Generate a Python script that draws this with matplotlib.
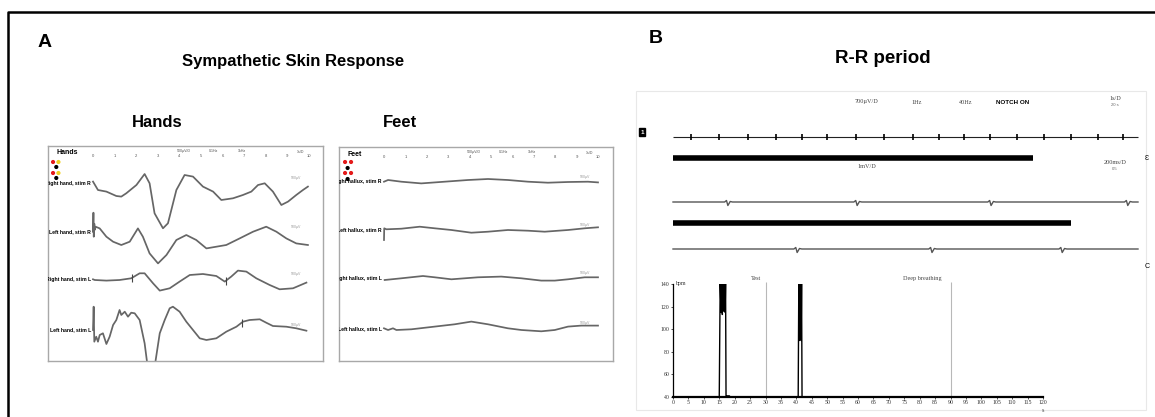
import numpy as np
import matplotlib.pyplot as plt
from matplotlib.lines import Line2D
from matplotlib.patches import Rectangle

plt.rcParams['font.family'] = ['Liberation Sans', 'DejaVu Sans']

W, H = 1155, 417


def fx(px):
    return px / W


def fy(py):
    return 1 - py / H


# ---- Panel A data: sympathetic skin response traces (s, deflection) ----
hand_labels = ["Right hand, stim R", "Left hand, stim R",
               "Right hand, stim L", "Left hand, stim L"]
hand_t = [
    [0.0, 0.23, 0.62, 1.08, 1.31, 1.54, 2.01, 2.39, 2.62, 2.85, 3.24, 3.47, 3.86,
     4.24, 4.63, 5.09, 5.56, 5.94, 6.48, 6.94, 7.33, 7.64, 7.95, 8.33, 8.72, 9.03,
     9.41, 9.72, 9.95],
    [0.0, 0.02, 0.035, 0.06, 0.09, 0.12, 0.31, 0.62, 0.93, 1.31, 1.70, 2.08, 2.31,
     2.62, 3.01, 3.40, 3.86, 4.32, 4.78, 5.25, 5.71, 6.17, 6.79, 7.41, 8.02, 8.49,
     8.95, 9.41, 9.95],
    [0.0, 0.08, 0.62, 1.23, 1.77, 2.16, 2.39, 2.78, 3.09, 3.55, 4.01, 4.48, 5.09,
     5.71, 6.10, 6.40, 6.71, 7.10, 7.56, 8.18, 8.64, 9.26, 9.88],
    [0.0, 0.03, 0.06, 0.15, 0.23, 0.31, 0.46, 0.62, 0.77, 0.93, 1.08, 1.23, 1.31,
     1.47, 1.62, 1.77, 1.93, 2.16, 2.39, 2.50, 2.62, 2.78, 2.89, 3.09, 3.32, 3.55,
     3.70, 4.01, 4.32, 4.63, 4.94, 5.25, 5.71, 6.17, 6.64, 6.94, 7.25, 7.72, 8.02,
     8.33, 8.95, 9.41, 9.88],
]
hand_v = [
    [1.7, -6.7, -8.3, -12.7, -13.3, -10, -1.7, 9.3, 0, -30, -45, -40, -6.7,
     8.3, 6.7, -3.3, -8.3, -16.7, -15, -11.7, -8.3, -1.7, 0, -8.3, -21.7, -18.3,
     -11.7, -6.7, -3.3],
    [0, 19, -5, 8, 2, 5, 3.3, -5, -10, -13.3, -10, 3.3, -5,
     -21.7, -31.7, -23.3, -8.3, -3.3, -8.3, -16.7, -15, -13.3, -6.7, 0, 5, 0,
     -6.7, -11.7, -13.3],
    [0, -0.7, -1.3, -0.7, 1, 6, 6, -4, -11.3, -9, -2.3, 4.3, 5.3,
     3.3, -2.3, 2.7, 8.7, 7.7, 1, -5.7, -10, -9, -3.3],
    [0, 23.3, -11.7, -6.7, -11.7, -5, -3.3, -14, -6.7, 5, 10, 20, 15,
     18.3, 13.3, 17.3, 16.7, 10, -13.3, -31.7, -60, -60, -31.7, -3.3, 10, 21.7,
     23.3, 18.3, 8.3, 0, -8.3, -10, -8.3, -1.7, 3.3, 8.3, 10, 10.7, 7.3,
     4, 3.3, 1.7, -0.7],
]
hand_cursor_trace = [2, 2, 3]
hand_cursor_t = [1.8, 6.14, 6.88]

foot_labels = ["Right hallux, stim R", "Left hallux, stim R",
               "Right hallux, stim L", "Left hallux, stim L"]
foot_t = [
    [0.0, 0.19, 0.81, 1.74, 2.83, 3.93, 4.86, 5.79, 6.73, 7.66, 8.60, 9.53, 10.0],
    [0.0, 0.01, 0.11, 0.81, 1.67, 2.37, 3.15, 4.08, 4.86, 5.79, 6.73, 7.51, 8.60,
     9.38, 10.0],
    [0.03, 0.81, 1.82, 2.37, 3.15, 4.39, 5.48, 6.42, 7.35, 7.98, 8.60, 9.38, 10.0],
    [0.0, 0.19, 0.42, 0.58, 1.28, 2.37, 3.30, 4.08, 4.86, 5.79, 6.42, 7.35, 7.98,
     8.60, 9.22, 10.0],
]
foot_v = [
    [0, 1.7, 0, -1.7, 0, 1.7, 2.7, 1.7, 0, -1, -0.3, 0, -0.7],
    [-10, 1.7, 0.7, 1.3, 3.3, 1.7, 0, -2.7, -1.7, 0, -0.7, -1.7, 0, 1.7, 2.7],
    [-1.7, 0, 2.3, 1, -1, 1, 1.7, 0, -2.3, -2.3, -1, 1, 1],
    [0, -1.7, 0, -1.7, -1, 1.7, 4, 6.7, 4, 0, -1.7, -3, -1.7, 1.7, 2.7, 2.7],
]
sweep_ticks = list(range(0, 11))

# ---- Panel B data: R-R recording ----
beats_top = [0.39, 0.99, 1.61, 2.22, 2.77, 3.31, 3.94, 4.54, 5.16, 5.72, 6.26,
             6.82, 7.40, 7.98, 8.56, 9.14, 9.68]
beats_mid = [1.18, 3.96, 6.84, 9.78]
beats_low = [2.67, 5.57, 8.37]
bar_ends = [7.74, 8.56]

hr_t = [0, 15.0, 15.3, 15.6, 15.8, 16.0, 16.15, 16.3, 16.45, 16.6, 16.75, 16.9,
        17.05, 17.2, 17.5, 18.3, 18.5, 40.6, 40.8, 40.95, 41.1, 41.25, 41.4,
        41.55, 41.7, 41.85, 120]
hr_bpm = [40, 40, 140, 115, 140, 113, 140, 116, 140, 118, 140, 115, 140, 40, 41,
          41, 40, 40, 140, 90, 140, 92, 140, 90, 140, 40, 40]
phase_marks = [30, 90]
phase_names = ["Test", "Deep breathing"]
phase_label_x = [27, 81]

fig = plt.figure(figsize=(W / 100, H / 100), dpi=100)

# outer frame
fig.add_artist(Line2D([fx(8), fx(8), fx(1155)], [fy(417), fy(12), fy(12)],
                      transform=fig.transFigure, color='black', lw=1.8))

fig.text(fx(45), fy(47), "A", fontsize=14, fontweight='bold', ha='center', va='baseline')
fig.text(fx(293), fy(66), "Sympathetic Skin Response", fontsize=12, fontweight='bold',
         ha='center', va='baseline')
fig.text(fx(157), fy(127), "Hands", fontsize=12, fontweight='bold', ha='center', va='baseline')
fig.text(fx(400), fy(127), "Feet", fontsize=12, fontweight='bold', ha='center', va='baseline')
fig.text(fx(656), fy(43), "B", fontsize=14, fontweight='bold', ha='center', va='baseline')
fig.text(fx(883), fy(63), "R-R period", fontsize=13.5, fontweight='bold', ha='center',
         va='baseline')

trace_col = '#666666'


def ssr_panel(box, t0px, pxs, title, labels, ts, vs, bases, dots):
    left, right, top, bottom = box
    ax = fig.add_axes([fx(left), fy(bottom), fx(right) - fx(left), (bottom - top) / H])
    ax.set_xlim((left - t0px) / pxs, (right - t0px) / pxs)
    ax.set_ylim(-(bottom - top), 0)
    ax.set_xticks([])
    ax.set_yticks([])
    for s in ax.spines.values():
        s.set_color('#a8a8a8')
        s.set_linewidth(1.0)
    for t, v, b, lab in zip(ts, vs, bases, labels):
        ax.plot(t, b + np.array(v), color=trace_col, lw=1.25)
        ax.text(-0.1, b, lab, fontsize=3.7, fontweight='bold', ha='right', va='center',
                clip_on=True)
        ax.text(9.4, b + 4, "500µV", fontsize=2.5, color='#999999', ha='center')
    for k in sweep_ticks:
        ax.text(k, -10, str(k), fontsize=3, color='#555555', ha='center', va='center')
    for k, s in zip([4.2, 5.6, 6.9], ["500µV/D", "0.1Hz", "1kHz"]):
        ax.text(k, -5, s, fontsize=2.6, color='#555555', ha='center', va='center')
    ax.text(9.6, -6, "1s/D", fontsize=2.6, color='#555555', ha='center', va='center')
    ax.text(-1.7, -7, title, fontsize=5, fontweight='bold', ha='left', va='center')
    dt, dy, dc = dots
    ax.scatter(dt, dy, s=9, c=dc, marker='o', linewidths=0)
    return ax


ax_h = ssr_panel((48, 323, 146, 361), 93, 21.6, "Hands", hand_labels, hand_t, hand_v,
                 [-37.3, -85.7, -133.3, -184],
                 ([-1.85, -1.6, -1.7, -1.85, -1.6, -1.7], [-16, -16, -21, -27, -27, -32],
                  ['#e41a1a', '#f0d020', 'black', '#e41a1a', '#f0d020', 'black']))
for tr, tc in zip(hand_cursor_trace, hand_cursor_t):
    base = [-37.3, -85.7, -133.3, -184][tr]
    yc = base + np.interp(tc, hand_t[tr], hand_v[tr])
    ax_h.vlines(tc, yc - 4, yc + 4, color='#444444', lw=0.8)

ssr_panel((339, 613, 147, 361), 384, 21.4, "Feet", foot_labels, foot_t, foot_v,
          [-34.7, -83, -131.3, -181.3],
          ([-1.82, -1.54, -1.7, -1.82, -1.54, -1.7], [-15, -15, -21, -26, -26, -32],
           ['#e41a1a', '#e41a1a', 'black', '#e41a1a', '#e41a1a', 'black']))

# ---- Panel B: ECG sweeps ----
fig.add_artist(Rectangle((fx(636), fy(410)), fx(1146) - fx(636), (410 - 91) / H,
                         transform=fig.transFigure, fill=False, ec='#e8e8e8', lw=0.8))

ax_e = fig.add_axes([fx(630), fy(272), fx(1155) - fx(630), (272 - 88) / H])
ax_e.set_xlim((630 - 673) / 46.5, (1155 - 673) / 46.5)
ax_e.set_ylim(-184, 0)
ax_e.axis('off')

ax_e.hlines(-49, 0, 10, color='#222222', lw=0.8)
ax_e.vlines(beats_top, -52, -46, color='black', lw=1.2)
ax_e.hlines([-70, -135], 0, bar_ends, color='black', lw=4)

notch_dt = [-0.07, -0.03, 0.0, 0.05, 0.1]
notch_dy = [0, 1.5, -3.5, 0.5, 0]
for beats, yb in [(beats_mid, -114), (beats_low, -161)]:
    xs, ys = [0], [0]
    for b in beats:
        xs += [b + d for d in notch_dt]
        ys += notch_dy
    xs.append(10)
    ys.append(0)
    ax_e.plot(xs, yb + np.array(ys), color='#555555', lw=1.0)

small = dict(fontsize=4.5, color='#444444', ha='center', va='center',
             family=['Liberation Serif', 'DejaVu Serif'])
fig.text(fx(866), fy(102), "700µV/D", **small)
fig.text(fx(917), fy(102), "1Hz", **small)
fig.text(fx(966), fy(102), "40Hz", **small)
fig.text(fx(1013), fy(102), "NOTCH ON", fontsize=4.5, fontweight='bold', ha='center',
         va='center')
fig.text(fx(1115), fy(99), "1s/D", **small)
fig.text(fx(1115), fy(105), "20 s", fontsize=3, color='#666666', ha='center', va='center')
fig.text(fx(867), fy(166), "1mV/D", **small)
fig.text(fx(1115), fy(163), "200ms/D", **small)
fig.text(fx(1115), fy(169), "0.5", fontsize=3, color='#666666', ha='center', va='center')
fig.text(fx(642), fy(132), "1", fontsize=4.5, color='white', fontweight='bold', ha='center',
         va='center', bbox=dict(boxstyle='square,pad=0.25', fc='black', ec='black'))
fig.text(fx(1147), fy(158), "Ɛ", fontsize=5, ha='center', va='center')
fig.text(fx(1147), fy(267), "C", fontsize=5, ha='center', va='center')

# ---- Panel B: heart rate ----
ax_hr = fig.add_axes([fx(673), fy(397), fx(1043) - fx(673), (397 - 284) / H])
ax_hr.plot(hr_t, hr_bpm, color='black', lw=1.0)
ax_hr.set_xlim(0, 120)
ax_hr.set_ylim(40, 140)
ax_hr.vlines(phase_marks, 40, 142, color='#b8b8b8', lw=0.8, clip_on=False)
for xl, name in zip(phase_label_x, phase_names):
    ax_hr.text(xl, 145, name, fontsize=4.5, family=['Liberation Serif', 'DejaVu Serif'],
               color='#444444', ha='center', va='center', clip_on=False)
ax_hr.set_xticks(range(0, 121, 5))
ax_hr.set_yticks(range(40, 141, 20))
ax_hr.tick_params(labelsize=4.2, length=1.5, width=0.6, pad=1, colors='#333333')
for lab in ax_hr.get_xticklabels() + ax_hr.get_yticklabels():
    lab.set_family(['Liberation Serif', 'DejaVu Serif'])
ax_hr.text(0.8, 140, "bpm", fontsize=4.2, family=['Liberation Serif', 'DejaVu Serif'],
           color='#333333', ha='left', va='center')
ax_hr.spines['top'].set_visible(False)
ax_hr.spines['right'].set_visible(False)
ax_hr.spines['bottom'].set_linewidth(1.6)
ax_hr.spines['left'].set_linewidth(0.9)
fig.text(fx(1043), fy(411), "s", **small)

fig.savefig('out.png', dpi=100)
